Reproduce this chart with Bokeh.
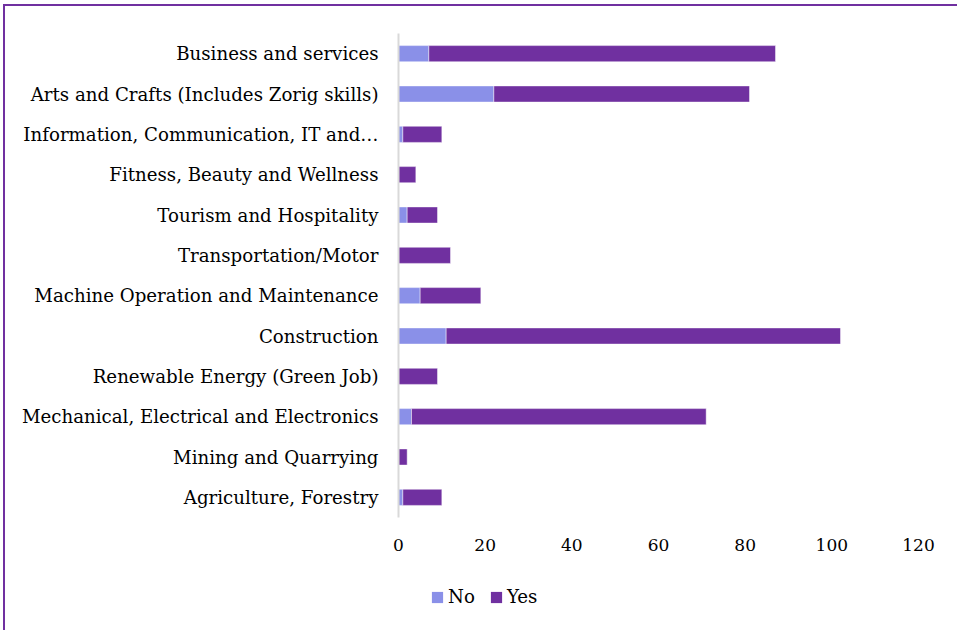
from bokeh.plotting import figure
from bokeh.layouts import column
from bokeh.models import ColumnDataSource, Range1d, FixedTicker, Legend, LegendItem
from bokeh.embed import file_html
from bokeh.resources import INLINE

categories = [
    "Business and services",
    "Arts and Crafts (Includes Zorig skills)",
    "Information, Communication, IT and\u2026",
    "Fitness, Beauty and Wellness",
    "Tourism and Hospitality",
    "Transportation/Motor",
    "Machine Operation and Maintenance",
    "Construction",
    "Renewable Energy (Green Job)",
    "Mechanical, Electrical and Electronics",
    "Mining and Quarrying",
    "Agriculture, Forestry",
]
no_values = [7, 22, 1, 0, 2, 0, 5, 11, 0, 3, 0, 1]
yes_values = [80, 59, 9, 4, 7, 12, 14, 91, 9, 68, 2, 9]
x_ticks = [0, 20, 40, 60, 80, 100, 120]
series_names = ["No", "Yes"]

NO_COLOR = "#8A90E8"
YES_COLOR = "#7030A0"
FONT = "DejaVu Serif"
FS = "18.2px"
TFS = "17px"

factors = list(reversed(categories))
source = ColumnDataSource(dict(cat=categories, No=no_values, Yes=yes_values))

p = figure(
    width=952, height=560,
    y_range=factors,
    x_range=Range1d(0, 120),
    output_backend="svg",
    toolbar_location=None,
    min_border_left=393, min_border_top=27, min_border_right=39, min_border_bottom=49,
)

renderers = p.hbar_stack(
    series_names, y="cat", height=0.4, source=source,
    fill_color=[NO_COLOR, YES_COLOR], line_color="white", line_alpha=0.45, line_width=1,
)

p.outline_line_color = None
p.grid.grid_line_color = None

p.xaxis.ticker = FixedTicker(ticks=x_ticks)
p.xaxis.axis_line_color = None
p.xaxis.major_tick_line_color = None
p.xaxis.minor_tick_line_color = None
p.xaxis.major_tick_out = 0
p.xaxis.major_label_standoff = 21
p.xaxis.major_label_text_font = FONT
p.xaxis.major_label_text_font_size = TFS
p.xaxis.major_label_text_color = "#000000"

p.yaxis.axis_line_color = "#D9D9D9"
p.yaxis.axis_line_width = 2
p.yaxis.major_tick_line_color = None
p.yaxis.minor_tick_line_color = None
p.yaxis.major_tick_out = 0
p.yaxis.major_label_standoff = 20
p.yaxis.major_label_text_font = FONT
p.yaxis.major_label_text_font_size = FS
p.yaxis.major_label_text_color = "#000000"

# legend strip below the chart (its bars have zero height and sit outside its visible x range)
p2 = figure(
    width=952, height=64,
    x_range=Range1d(-2000, -1000), y_range=factors,
    output_backend="svg", toolbar_location=None,
    x_axis_type=None, y_axis_type=None,
    min_border=0,
)
p2.outline_line_color = None
p2.grid.grid_line_color = None
legend_renderers = p2.hbar_stack(
    series_names, y="cat", height=0, source=source,
    fill_color=[NO_COLOR, YES_COLOR], line_color=None,
)

legend = Legend(
    items=[LegendItem(label=series_names[0], renderers=[legend_renderers[0]]),
           LegendItem(label=series_names[1], renderers=[legend_renderers[1]])],
    orientation="horizontal",
    location=(32, 23),
    label_text_font=FONT,
    label_text_font_size=FS,
    label_text_color="#000000",
    glyph_width=14, glyph_height=14,
    label_standoff=4, spacing=14,
    border_line_color=None,
    background_fill_alpha=0,
    padding=0, margin=0,
)
p2.add_layout(legend, "center")

layout = column(
    p, p2, spacing=0,
    styles={
        "border-left": "2px solid #7030A0",
        "border-top": "2px solid #7030A0",
        "margin-left": "3px",
        "margin-top": "4px",
    },
)

open("out.html", "w").write(file_html(layout, INLINE))
